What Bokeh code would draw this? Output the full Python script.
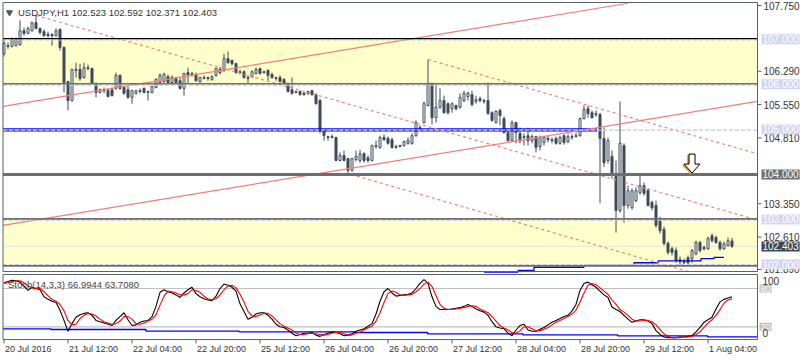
from bokeh.plotting import figure
from bokeh.models import Range1d, Label, BoxAnnotation, ColumnDataSource
from bokeh.core.properties import value
from bokeh.embed import file_html
from bokeh.resources import INLINE

# ---------------- data ----------------
symbol = "USDJPY,H1"

opens = [
    106.68, 106.84, 106.84, 106.86, 106.88, 107.19, 107.13, 107.19, 107.37, 107.24,
    107.17, 107.11, 107.11, 107.08, 107.22, 106.82, 106.06, 105.64, 106.33, 106.33,
    106.15, 106.37, 106.35, 106.02, 105.82, 105.88, 105.86, 105.88, 105.91, 106.20,
    105.93, 105.88, 105.71, 105.80, 105.84, 105.91, 105.82, 105.82, 105.93, 106.04,
    106.06, 106.17, 106.04, 106.13, 106.08, 105.91, 106.26, 106.22, 106.22, 106.06,
    106.13, 106.15, 106.11, 106.20, 106.26, 106.31, 106.57, 106.53, 106.46, 106.26,
    106.28, 106.15, 106.17, 106.24, 106.35, 106.26, 106.31, 106.22, 106.15, 106.15,
    106.11, 106.02, 105.88, 105.82, 105.84, 105.80, 105.80, 105.86, 105.77, 105.64,
    104.97, 104.84, 104.82, 104.82, 104.31, 104.42, 104.35, 104.09, 104.33, 104.31,
    104.46, 104.37, 104.31, 104.62, 104.60, 104.82, 104.80, 104.77, 104.62, 104.62,
    104.64, 104.69, 104.69, 104.86, 105.04, 105.15, 105.53, 106.02, 105.26, 105.49,
    105.64, 105.57, 105.46, 105.53, 105.49, 105.64, 105.73, 105.77, 105.62, 105.68,
    105.64, 105.64, 105.37, 105.15, 105.42, 105.24, 104.93, 104.75, 105.15, 104.91,
    104.84, 104.86, 104.75, 104.84, 104.62, 104.71, 104.80, 104.77, 104.80, 104.69,
    104.86, 104.73, 104.82, 104.84, 104.86, 105.24, 105.46, 105.37, 105.33, 105.33,
    104.80, 104.31, 104.40, 104.02, 103.20, 104.64, 103.31, 103.26, 103.42, 103.60,
    103.75, 103.64, 103.38, 103.31, 102.98, 102.78, 102.47, 102.35, 102.31, 102.11,
    102.07, 102.15, 102.13, 102.24, 102.49, 102.38, 102.35, 102.64, 102.60, 102.49,
    102.35, 102.42, 102.523,
]
highs = [
    106.97, 106.93, 107.04, 107.04, 107.42, 107.26, 107.28, 107.39, 107.53, 107.26,
    107.22, 107.17, 107.13, 107.24, 107.24, 106.84, 106.08, 106.35, 106.48, 106.46,
    106.48, 106.44, 106.37, 106.04, 105.91, 105.93, 105.91, 105.93, 106.26, 106.22,
    105.95, 105.95, 105.88, 105.88, 105.91, 105.93, 105.86, 105.97, 106.13, 106.24,
    106.26, 106.22, 106.20, 106.17, 106.15, 106.26, 106.37, 106.28, 106.26, 106.17,
    106.20, 106.17, 106.20, 106.37, 106.39, 106.68, 106.73, 106.55, 106.48, 106.33,
    106.31, 106.20, 106.31, 106.37, 106.37, 106.31, 106.33, 106.26, 106.17, 106.20,
    106.13, 106.04, 106.15, 105.86, 105.86, 105.84, 105.86, 105.88, 105.80, 105.68,
    105.00, 104.86, 104.89, 104.84, 104.49, 104.53, 104.37, 104.37, 104.53, 104.55,
    104.49, 104.42, 104.66, 104.75, 104.86, 104.89, 104.84, 104.82, 104.66, 104.66,
    104.75, 104.82, 104.91, 105.20, 105.09, 105.62, 106.55, 106.04, 106.02, 105.91,
    105.75, 105.60, 105.60, 105.55, 105.80, 105.86, 105.84, 105.86, 105.75, 105.73,
    105.68, 106.04, 105.40, 105.42, 105.46, 105.29, 104.97, 105.20, 105.17, 105.04,
    104.91, 105.04, 104.89, 104.86, 104.86, 104.86, 104.86, 104.82, 104.84, 104.86,
    104.89, 104.89, 104.89, 104.93, 105.26, 105.53, 105.53, 105.42, 105.42, 105.37,
    105.04, 104.82, 104.53, 104.31, 105.62, 104.69, 103.75, 103.69, 103.71, 103.98,
    103.82, 103.69, 103.42, 103.42, 103.06, 102.84, 102.51, 102.40, 102.38, 102.18,
    102.13, 102.20, 102.35, 102.53, 102.53, 102.42, 102.62, 102.69, 102.64, 102.53,
    102.51, 102.60, 102.592,
]
lows = [
    106.62, 106.79, 106.82, 106.84, 106.86, 107.08, 107.11, 107.17, 107.22, 107.11,
    107.06, 107.04, 106.86, 107.06, 106.75, 105.82, 105.42, 105.62, 106.15, 106.08,
    106.13, 106.31, 106.00, 105.71, 105.80, 105.80, 105.71, 105.73, 105.88, 105.88,
    105.77, 105.68, 105.57, 105.77, 105.80, 105.80, 105.64, 105.80, 105.91, 106.02,
    106.04, 106.02, 106.02, 106.02, 105.88, 105.75, 106.02, 106.17, 106.06, 106.04,
    106.11, 106.08, 106.08, 106.17, 106.22, 106.28, 106.46, 106.42, 106.24, 106.22,
    106.13, 106.02, 106.15, 106.22, 106.22, 106.24, 106.08, 106.13, 106.08, 106.04,
    106.00, 105.82, 105.77, 105.80, 105.75, 105.75, 105.77, 105.75, 105.55, 104.91,
    104.75, 104.75, 104.80, 104.29, 104.29, 104.29, 103.98, 104.06, 104.29, 104.26,
    104.26, 104.26, 104.29, 104.57, 104.57, 104.75, 104.66, 104.57, 104.57, 104.60,
    104.62, 104.66, 104.66, 104.84, 104.97, 105.13, 105.51, 105.11, 105.15, 105.46,
    105.35, 105.33, 105.37, 105.42, 105.46, 105.60, 105.64, 105.51, 105.57, 105.60,
    105.57, 105.33, 105.17, 105.13, 105.09, 104.91, 104.73, 104.73, 104.69, 104.69,
    104.64, 104.64, 104.69, 104.49, 104.53, 104.64, 104.71, 104.69, 104.66, 104.66,
    104.66, 104.69, 104.77, 104.82, 104.84, 105.22, 105.26, 105.24, 105.28, 103.36,
    104.17, 104.24, 103.91, 102.71, 103.15, 102.93, 103.24, 103.22, 103.38, 103.55,
    103.53, 103.29, 103.20, 102.82, 102.69, 102.42, 102.22, 102.20, 102.04, 102.00,
    101.95, 101.98, 102.04, 102.20, 102.27, 102.31, 102.33, 102.49, 102.46, 102.31,
    102.33, 102.40, 102.371,
]
closes = [
    106.91, 106.86, 106.99, 106.99, 107.19, 107.13, 107.24, 107.37, 107.24, 107.15,
    107.08, 107.08, 107.08, 107.19, 106.82, 106.04, 105.64, 106.33, 106.31, 106.13,
    106.37, 106.35, 106.02, 105.82, 105.88, 105.86, 105.73, 105.75, 106.20, 105.91,
    105.80, 105.71, 105.86, 105.86, 105.86, 105.82, 105.84, 105.95, 106.11, 106.20,
    106.22, 106.04, 106.15, 106.04, 105.91, 106.24, 106.20, 106.24, 106.08, 106.15,
    106.15, 106.13, 106.17, 106.35, 106.33, 106.57, 106.48, 106.46, 106.26, 106.28,
    106.15, 106.13, 106.28, 106.33, 106.24, 106.28, 106.20, 106.15, 106.13, 106.06,
    106.02, 105.84, 105.80, 105.84, 105.77, 105.77, 105.84, 105.77, 105.57, 104.97,
    104.86, 104.82, 104.84, 104.31, 104.42, 104.31, 104.09, 104.35, 104.40, 104.46,
    104.31, 104.31, 104.64, 104.64, 104.82, 104.77, 104.69, 104.60, 104.60, 104.64,
    104.73, 104.75, 104.86, 105.15, 105.02, 105.57, 106.02, 105.26, 105.49, 105.64,
    105.37, 105.37, 105.57, 105.46, 105.71, 105.80, 105.80, 105.55, 105.66, 105.64,
    105.62, 105.35, 105.20, 105.40, 105.31, 104.93, 104.75, 105.15, 104.93, 104.75,
    104.82, 104.75, 104.84, 104.60, 104.82, 104.82, 104.77, 104.75, 104.69, 104.82,
    104.71, 104.84, 104.84, 104.86, 105.24, 105.44, 105.35, 105.26, 105.35, 104.80,
    104.26, 104.75, 104.02, 103.20, 104.69, 103.31, 103.64, 103.64, 103.64, 103.75,
    103.58, 103.31, 103.26, 102.87, 102.75, 102.47, 102.27, 102.27, 102.09, 102.07,
    102.04, 102.04, 102.31, 102.49, 102.31, 102.35, 102.58, 102.53, 102.49, 102.35,
    102.46, 102.53, 102.403,
]

stoch_name = "Stoch(14,3,3)"
stoch_last = [66.9944, 63.7080]
stoch_k = [
    89, 91, 93, 92, 90, 84, 77, 82, 80, 78,
    67, 63, 60, 58, 46, 30, 13, 25, 35, 39,
    41, 42, 38, 30, 28, 26, 24, 22, 30, 36,
    42, 31, 22, 23, 27, 29, 30, 36, 52, 74,
    78, 75, 73, 70, 66, 73, 78, 82, 72, 67,
    64, 62, 61, 68, 80, 87, 85, 82, 76, 56,
    44, 32, 35, 40, 42, 42, 38, 32, 24, 20,
    19, 15, 10, 6, 8, 10, 10, 11, 7, 5,
    8, 10, 12, 11, 9, 6, 7, 9, 13, 15,
    17, 21, 25, 40, 60, 75, 80, 73, 68, 69,
    70, 71, 73, 80, 88, 94, 88, 67, 52, 47,
    47, 47, 48, 49, 50, 52, 55, 52, 48, 45,
    43, 38, 28, 20, 18, 17, 10, 6, 15, 22,
    24, 15, 13, 13, 16, 19, 23, 27, 30, 33,
    36, 38, 45, 55, 77, 88, 90, 86, 82, 76,
    70, 66, 51, 47, 44, 38, 32, 27, 29, 31,
    31, 29, 25, 14, 8, 4, 3, 3, 3, 4,
    4, 5, 6, 12, 19, 27, 31, 35, 48, 59,
    63, 65, 66.9944,
]
stoch_d = [
    88, 89, 91, 92, 92, 89, 84, 81, 80, 80,
    75, 69, 63, 60, 55, 45, 30, 23, 24, 33,
    38, 41, 40, 37, 32, 28, 26, 24, 25, 29,
    36, 36, 32, 25, 24, 26, 29, 32, 39, 54,
    68, 76, 75, 73, 70, 70, 72, 78, 77, 74,
    68, 64, 62, 64, 70, 78, 84, 85, 81, 71,
    59, 44, 37, 36, 39, 41, 41, 37, 31, 25,
    21, 18, 15, 10, 8, 8, 9, 10, 9, 8,
    7, 8, 10, 11, 11, 9, 7, 7, 10, 12,
    15, 18, 21, 29, 42, 58, 72, 76, 74, 70,
    69, 70, 71, 75, 80, 87, 90, 83, 69, 55,
    49, 47, 47, 48, 49, 50, 52, 53, 52, 48,
    45, 42, 36, 29, 22, 18, 15, 11, 10, 14,
    20, 20, 17, 14, 14, 16, 19, 23, 27, 30,
    33, 36, 40, 46, 59, 73, 85, 88, 86, 81,
    76, 71, 62, 55, 47, 43, 38, 32, 29, 29,
    30, 30, 28, 23, 16, 9, 5, 3, 3, 3,
    4, 4, 5, 8, 12, 19, 26, 31, 38, 47,
    57, 62, 63.708,
]
stoch_levels = [80, 20]

# blue step line in the stochastic window (segment start bar, value)
st_blue_start = [-0.25, 11.75, 35.5, 58.8, 87.6, 105.9, 129.7, 153.4, 175.9]
st_blue_end = 188.3
st_blue_val = [16.8, 15.8, 13.2, 12.1, 11.1, 9.0, 7.4, 5.8, 4.2]

# blue step line at the bottom of the price window
main_blue_start = [120, 128.5, 132.5, 145, 157.5, 163.5, 174.25, 177.5]
main_blue_end = 180
main_blue_val = [101.83, 101.87, 101.94, 101.98, 102.04, 102.08, 102.13, 102.16]

# blue double support line
support_levels = [105.01, 104.965]
support_start, support_end = -0.25, 148.25

tick_bars = [0, 16, 32, 48, 64, 80, 96, 112, 128, 144, 160, 176]
tick_labels = ["20 Jul 2016", "21 Jul 12:00", "22 Jul 04:00", "22 Jul 20:00",
               "25 Jul 12:00", "26 Jul 04:00", "26 Jul 20:00", "27 Jul 12:00",
               "28 Jul 04:00", "28 Jul 20:00", "29 Jul 12:00", "1 Aug 04:00"]
price_ticks = [107.75, 106.29, 105.55, 104.81, 103.35, 102.61, 101.89]

zone_upper = [106.0, 107.0]
zone_lower = [101.97, 103.0]
dashed_levels = [107.0, 106.0, 105.0, 103.0, 102.0]
key_level = 104.0
label_levels = [107.0, 106.0, 105.0, 104.0, 103.0, 102.0]
label_kinds = ["lav", "lav", "lav", "key", "lav", "lav"]

# trend lines (bar, price)
solid_x0 = [-0.25, -0.25]
solid_y0 = [105.51, 102.87]
solid_x1 = [156, 188.3]
solid_y1 = [107.80, 105.62]
dash_x0 = [8, 106, 86.75]
dash_y0 = [107.53, 106.55, 104.00]
dash_x1 = [188.3, 188.3, 171.2]
dash_y1 = [102.99, 104.46, 101.84]

arrow_bar, arrow_price = 172, 104.03

# ---------------- styles / layout ----------------
CANDLE = "#3E4A59"
BORDER = "#58626D"
ZONE = "#FFFFCC"
LAV = "#C6C6EE"
LAVBG = "#D3D3F4"
GRAYL = "#6E6E6E"
RED = "#F08080"
TXT = "#333333"
FONT = "Liberation Sans"

W, H = 800, 360
PXB = 4.0            # pixels per bar
PXP = 45.05          # pixels per price unit
PXS = 0.6383         # pixels per stochastic unit


def bx(px):          # picture x -> bar
    return (px - 3.5) / PXB


def pp(py):          # picture y -> price
    return 107.75 - (py - 5) / PXP


def ps(py):          # picture y -> stochastic value
    return (339.07 - py) / PXS


XL, XA = bx(2.5), bx(757)       # left border, price-axis line
P_TOP, P_BOT = pp(2), pp(271)   # price window frame
S_TOP, S_BOT = ps(274), 0.0     # stochastic window frame

f = figure(width=W, height=H, x_range=Range1d(bx(0), bx(W)),
           y_range=Range1d(pp(H), pp(0)), output_backend="svg", toolbar_location=None,
           x_axis_location=None, y_axis_location=None, min_border=0,
           outline_line_color=None, background_fill_color="white",
           border_fill_color="white")
f.extra_y_ranges = {"st": Range1d(ps(H), ps(0))}
f.grid.visible = False

# zones
for lo, hi in (zone_upper, zone_lower):
    f.add_layout(BoxAnnotation(left=XL, right=XA, bottom=lo, top=hi, fill_color=ZONE,
                               fill_alpha=1, line_color=None, level="underlay"))

# bid line
f.segment(x0=[XL], y0=[closes[-1]], x1=[XA], y1=[closes[-1]], line_color="#E4E4E4",
          line_width=1)

# candles
idx = list(range(len(closes)))
src = ColumnDataSource(dict(
    x=idx, h=highs, l=lows,
    top=[max(o, c) for o, c in zip(opens, closes)],
    bot=[min(o, c) for o, c in zip(opens, closes)],
    fill=["white" if c > o else CANDLE for o, c in zip(opens, closes)],
))
f.segment(x0="x", y0="h", x1="x", y1="l", source=src, line_color=CANDLE, line_width=1)
f.vbar(x="x", width=0.5, top="top", bottom="bot", fill_color="fill",
       line_color=CANDLE, line_width=1, source=src)

# blue support double line and blue step line
f.segment(x0=[support_start] * len(support_levels), y0=support_levels,
          x1=[support_end] * len(support_levels), y1=support_levels,
          line_color="#0000FF", line_width=1.3)
f.step(x=main_blue_start + [main_blue_end], y=main_blue_val + [main_blue_val[-1]],
       mode="after", line_color="#0000FF", line_width=1.3)

# trend lines
f.segment(x0=solid_x0, y0=solid_y0, x1=solid_x1, y1=solid_y1, line_color=RED, line_width=1.2)
f.segment(x0=dash_x0, y0=dash_y0, x1=dash_x1, y1=dash_y1, line_color=RED,
          line_width=1.2, line_dash="3 3")

# horizontal levels
n = len(dashed_levels)
dl = [lv - 0.7 / PXP if lv > 102.5 else lv for lv in dashed_levels]
f.segment(x0=[XL] * n, y0=dl, x1=[XA] * n, y1=dl, line_color=LAV, line_width=1.2,
          line_dash="4 2")
f.segment(x0=[XL], y0=[zone_upper[1] + 0.7 / PXP], x1=[XA], y1=[zone_upper[1] + 0.7 / PXP],
          line_color="black", line_width=1.2)
gl = [zone_upper[0] + 0.6 / PXP, zone_lower[1] + 0.6 / PXP, zone_lower[0]]
f.segment(x0=[XL] * 3, y0=gl, x1=[XA] * 3, y1=gl, line_color=GRAYL, line_width=1.6)
f.segment(x0=[XL], y0=[key_level], x1=[XA], y1=[key_level], line_color=GRAYL, line_width=3)

# arrow
shape_x = [0, 8, 3, 3, -3, -3, -8]
shape_y = [0, 9, 9, 19, 19, 9, 9]
f.patch([arrow_bar + (dx - 1.5) / PXB for dx in shape_x],
        [arrow_price + (dy - 1) / PXP for dy in shape_y],
        fill_color="#F2A33A", line_color="#F2A33A", line_width=1)
f.patch([arrow_bar + dx / PXB for dx in shape_x],
        [arrow_price + dy / PXP for dy in shape_y],
        fill_color="white", line_color="black", line_width=1)

# price window frame, axis ticks and labels
f.quad(left=[XL], right=[XA], top=[P_TOP], bottom=[P_BOT], fill_color=None,
       line_color=BORDER, line_width=1)
m = len(price_ticks)
f.segment(x0=[XA] * m, y0=price_ticks, x1=[bx(761)] * m, y1=price_ticks,
          line_color=BORDER, line_width=1)
f.text(x=[bx(763)] * m, y=price_ticks, text=[f"{t:.3f}" for t in price_ticks],
       text_font=value(FONT), text_font_size=value("10px"), text_color=TXT,
       text_align="left", text_baseline="middle")

# title
f.scatter(x=[bx(9)], y=[pp(12)], marker="inverted_triangle", size=6,
          fill_color="#505860", line_color="#505860")
f.text(x=[bx(17.5)], y=[pp(11.5)],
       text=[f"{symbol}  {opens[-1]:.3f} {highs[-1]:.3f} {lows[-1]:.3f} {closes[-1]:.3f}"],
       text_font=value(FONT), text_font_size=value("9.5px"), text_color=TXT,
       text_align="left", text_baseline="middle")

# ---------------- stochastic window ----------------
k = len(stoch_levels)
f.segment(x0=[XL] * k, y0=stoch_levels, x1=[XA] * k, y1=stoch_levels,
          line_color="#C0C0C0", line_width=1.2, y_range_name="st")
f.step(x=st_blue_start + [st_blue_end], y=st_blue_val + [st_blue_val[-1]], mode="after",
       line_color="#0000FF", line_width=1.4, y_range_name="st")
f.line(idx, stoch_k, line_color="black", line_width=1.1, y_range_name="st")
f.line(idx, stoch_d, line_color="#FF0000", line_width=1.1, y_range_name="st")
f.quad(left=[XL], right=[XA], top=[S_TOP], bottom=[S_BOT], fill_color=None,
       line_color=BORDER, line_width=1, y_range_name="st")

f.text(x=[bx(7.5)], y=[ps(284)],
       text=[f"{stoch_name} {stoch_last[0]:.4f} {stoch_last[1]:.4f}"],
       text_font=value(FONT), text_font_size=value("9.5px"), text_color="#444444",
       text_align="left", text_baseline="middle", y_range_name="st")

# time axis ticks and labels
t = len(tick_bars)
f.segment(x0=tick_bars, y0=[S_BOT] * t, x1=tick_bars, y1=[ps(343)] * t,
          line_color=BORDER, line_width=1, y_range_name="st")
f.text(x=[b + 1 / PXB for b in tick_bars], y=[ps(348.5)] * t, text=tick_labels,
       text_font=value(FONT), text_font_size=value("9px"), text_color=TXT,
       text_align="left", text_baseline="middle", y_range_name="st")

# stochastic axis labels: level boxes first, then 100 / 0 on top
for lv in stoch_levels:
    f.add_layout(Label(x=bx(759), y=lv, y_range_name="st", text=str(lv), text_font=FONT,
                       text_font_size="9px", text_color="white", text_align="left",
                       text_baseline="middle", padding=1,
                       background_fill_color="#C0C0C0"))
for txt, yy in (("100", ps(280.5)), ("0", ps(332))):
    f.add_layout(Label(x=bx(762), y=yy, y_range_name="st", text=txt, text_font=FONT,
                       text_font_size="10px", text_color=TXT, text_align="left",
                       text_baseline="middle"))

# highlighted price labels on the axis
for lv, kind in zip(label_levels, label_kinds):
    f.add_layout(Label(x=bx(761), y=lv, text=f"{lv:.3f}", text_font=FONT,
                       text_font_size="10px", text_color="white", text_align="left",
                       text_baseline="middle", padding=1,
                       background_fill_color=(GRAYL if kind == "key" else LAVBG)))
f.add_layout(Label(x=bx(761), y=closes[-1], text=f"{closes[-1]:.3f}", text_font=FONT,
                   text_font_size="10px", text_color="white", text_align="left",
                   text_baseline="middle", padding=1, background_fill_color="#3C4652"))

open("out.html", "w").write(file_html(f, INLINE))
